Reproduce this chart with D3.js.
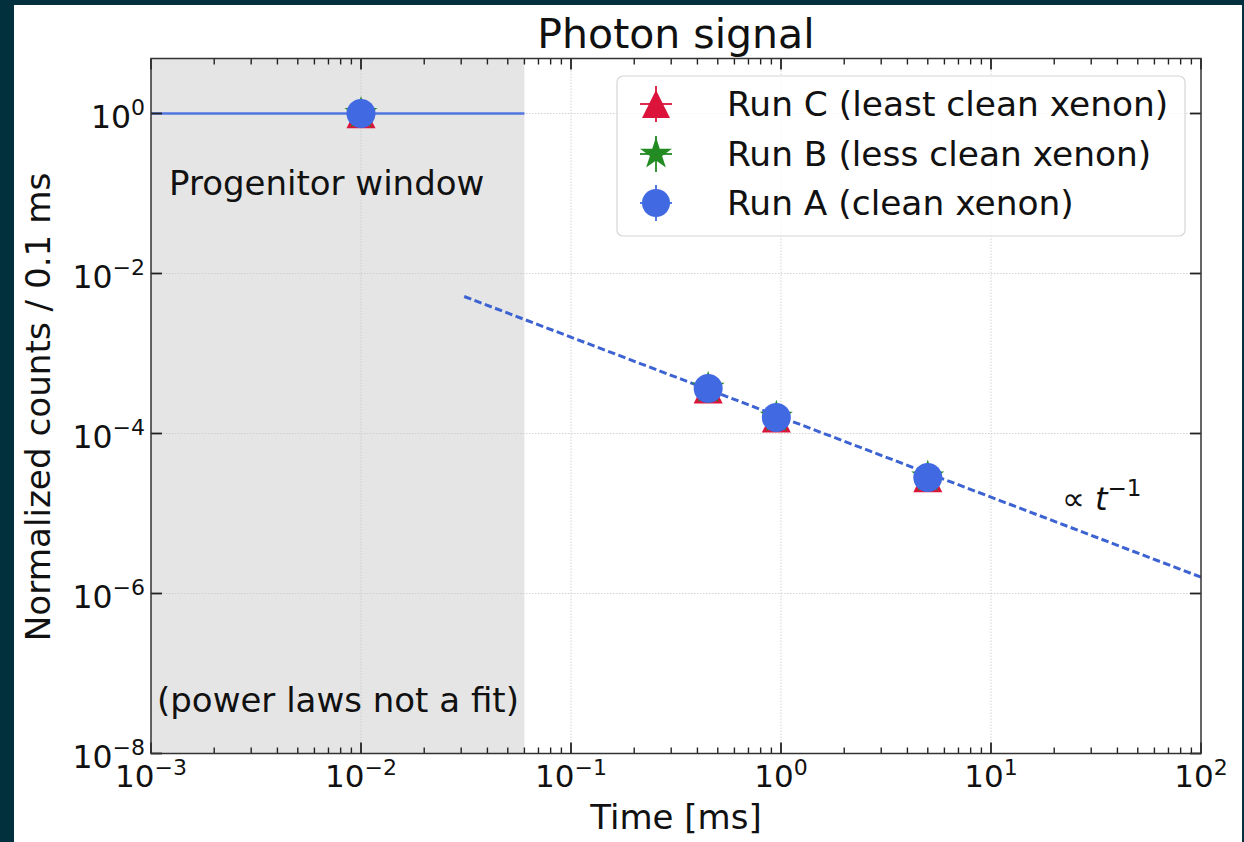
<!DOCTYPE html>
<html>
<head>
<meta charset="utf-8">
<script src="https://cdn.jsdelivr.net/npm/d3@7"></script>
<style>
  html, body { margin: 0; padding: 0; background: #03303d; }
  svg { display: block; font-family: "DejaVu Sans", sans-serif; }
</style>
</head>
<body>
<svg id="chart" width="1244" height="842"></svg>
<script>
// ---------------- data ----------------
const times = [0.01, 0.45, 0.95, 5.0];
const runA = [1.0, 3.65e-4, 1.58e-4, 2.82e-5];
const runB = [1.0, 3.70e-4, 1.60e-4, 2.86e-5];
const runC = [0.99, 3.60e-4, 1.56e-4, 2.80e-5];
const seriesNames = ["Run C (least clean xenon)", "Run B (less clean xenon)", "Run A (clean xenon)"];
const fitCoef = 1.6e-4;          // counts ∝ t^-1
const fitRange = [0.031, 100];
const progenitorWindow = [1e-3, 0.06];
const progenitorLevel = 1.0;
const xTickExps = [-3, -2, -1, 0, 1, 2];
const yTickExps = [0, -2, -4, -6, -8];

// ---------------- layout ----------------
const svg = d3.select("#chart");
const L = 151, R = 1201, T = 58.5, B = 753.5;
const x = d3.scaleLog().domain([1e-3, 1e2]).range([L, R]);
const y = d3.scaleLog().domain([1e-8, Math.pow(10, 0.6875)]).range([B, T]);

const colors = { A: "#4169e1", B: "#228b22", C: "#dc143c" };

// figure background
svg.append("rect").attr("x", 14).attr("y", 5).attr("width", 1228).attr("height", 837).attr("fill", "#ffffff");

// clip
svg.append("clipPath").attr("id", "plotclip").append("rect")
  .attr("x", L).attr("y", T).attr("width", R - L).attr("height", B - T);
const plot = svg.append("g").attr("clip-path", "url(#plotclip)");

// shaded progenitor window
plot.append("rect")
  .attr("x", x(progenitorWindow[0])).attr("y", T)
  .attr("width", x(progenitorWindow[1]) - x(progenitorWindow[0]))
  .attr("height", B - T)
  .attr("fill", "#e5e5e5");

// grid
const gridX = xTickExps.slice(1, -1).map(e => Math.pow(10, e));
const gridY = yTickExps.slice(0, -1).map(e => Math.pow(10, e));
plot.selectAll(".gx").data(gridX).enter().append("line")
  .attr("x1", d => x(d)).attr("x2", d => x(d)).attr("y1", T).attr("y2", B)
  .attr("stroke", "#c8c8c8").attr("stroke-width", 0.8).attr("stroke-dasharray", "1.5,1.5");
plot.selectAll(".gy").data(gridY).enter().append("line")
  .attr("x1", L).attr("x2", R).attr("y1", d => y(d)).attr("y2", d => y(d))
  .attr("stroke", "#c8c8c8").attr("stroke-width", 0.8).attr("stroke-dasharray", "1.5,1.5");

// progenitor level line
plot.append("line")
  .attr("x1", x(progenitorWindow[0])).attr("x2", x(progenitorWindow[1]))
  .attr("y1", y(progenitorLevel)).attr("y2", y(progenitorLevel))
  .attr("stroke", colors.A).attr("stroke-width", 2.6).attr("stroke-opacity", 0.9);

// fit line
const fitPts = fitRange.map(t => [t, fitCoef / t]);
plot.append("path")
  .attr("d", d3.line().x(d => x(d[0])).y(d => y(d[1]))(fitPts))
  .attr("fill", "none").attr("stroke", "#3d63d2").attr("stroke-width", 3)
  .attr("stroke-dasharray", "7.5,3.5");

// marker shapes
function trianglePath(r) {
  return `M0,${-r}L${-r},${r}L${r},${r}Z`;
}
function starPath(r) {
  const inner = r * 0.381966;
  let pts = [];
  for (let i = 0; i < 10; i++) {
    const rad = i % 2 === 0 ? r : inner;
    const a = -Math.PI / 2 + i * Math.PI / 5;
    pts.push([rad * Math.cos(a), rad * Math.sin(a)]);
  }
  return "M" + pts.map(p => p.join(",")).join("L") + "Z";
}

const series = [
  { vals: runC, color: colors.C, shape: "tri" },
  { vals: runB, color: colors.B, shape: "star" },
  { vals: runA, color: colors.A, shape: "circ" }
];
function drawMarker(g, shape, color, r) {
  if (shape === "tri") g.append("path").attr("d", trianglePath(r)).attr("fill", color);
  else if (shape === "star") g.append("path").attr("d", starPath(r * 1.2)).attr("fill", color);
  else g.append("circle").attr("r", r).attr("fill", color);
}
series.forEach(s => {
  s.vals.forEach((v, i) => {
    const g = plot.append("g").attr("transform", `translate(${x(times[i])},${y(v)})`);
    drawMarker(g, s.shape, s.color, 14.5);
  });
});

// ---------------- axes ----------------
const ax = svg.append("g");
// minor x ticks
const minorX = [];
for (let e = -3; e < 2; e++) for (let k = 2; k <= 9; k++) minorX.push(k * Math.pow(10, e));
minorX.forEach(v => {
  ax.append("line").attr("x1", x(v)).attr("x2", x(v)).attr("y1", B).attr("y2", B - 6).attr("stroke", "#222").attr("stroke-width", 1.4);
  ax.append("line").attr("x1", x(v)).attr("x2", x(v)).attr("y1", T).attr("y2", T + 6).attr("stroke", "#222").attr("stroke-width", 1.4);
});
xTickExps.forEach(e => {
  const v = Math.pow(10, e);
  ax.append("line").attr("x1", x(v)).attr("x2", x(v)).attr("y1", B).attr("y2", B - 11).attr("stroke", "#222").attr("stroke-width", 1.8);
  ax.append("line").attr("x1", x(v)).attr("x2", x(v)).attr("y1", T).attr("y2", T + 11).attr("stroke", "#222").attr("stroke-width", 1.8);
  const t = ax.append("text").attr("x", x(v)).attr("y", 787).attr("text-anchor", "middle")
    .attr("font-size", 31).attr("fill", "#111");
  t.append("tspan").text("10");
  t.append("tspan").attr("dy", -12).attr("font-size", 22).text(String(e).replace("-", "\u2212"));
});
yTickExps.forEach(e => {
  const v = Math.pow(10, e);
  ax.append("line").attr("x1", L).attr("x2", L + 11).attr("y1", y(v)).attr("y2", y(v)).attr("stroke", "#222").attr("stroke-width", 1.8);
  ax.append("line").attr("x1", R).attr("x2", R - 11).attr("y1", y(v)).attr("y2", y(v)).attr("stroke", "#222").attr("stroke-width", 1.8);
  const t = ax.append("text").attr("x", 145).attr("y", y(v) + 14.5).attr("text-anchor", "end")
    .attr("font-size", 31.5).attr("fill", "#111");
  t.append("tspan").text("10");
  t.append("tspan").attr("dy", -13).attr("font-size", 22).text(String(e).replace("-", "\u2212"));
});
// spines
ax.append("rect").attr("x", L).attr("y", T).attr("width", R - L).attr("height", B - T)
  .attr("fill", "none").attr("stroke", "#333").attr("stroke-width", 1.5);

// ---------------- legend ----------------
const lg = svg.append("g");
lg.append("rect").attr("x", 617).attr("y", 76).attr("width", 568).attr("height", 160)
  .attr("rx", 6).attr("fill", "#ffffff").attr("fill-opacity", 0.8)
  .attr("stroke", "#d6d6d6").attr("stroke-width", 1.2);
const legRows = [104, 154, 203];
series.forEach((s, i) => {
  const g = lg.append("g").attr("transform", `translate(656,${legRows[i]})`);
  g.append("line").attr("x1", -16).attr("x2", 16).attr("y1", 0).attr("y2", 0).attr("stroke", s.color).attr("stroke-width", 1.8);
  g.append("line").attr("x1", 0).attr("x2", 0).attr("y1", -18).attr("y2", 18).attr("stroke", s.color).attr("stroke-width", 1.8);
  drawMarker(g, s.shape, s.color, 14);
  lg.append("text").attr("x", 727).attr("y", legRows[i] + 12).attr("font-size", 34.4).attr("fill", "#111")
    .text(seriesNames[i]);
});

// ---------------- texts ----------------
svg.append("text").attr("x", 676).attr("y", 48).attr("text-anchor", "middle").attr("font-size", 41).attr("fill", "#111").text("Photon signal");
svg.append("text").attr("x", 676).attr("y", 829).attr("text-anchor", "middle").attr("font-size", 34).attr("fill", "#111").text("Time [ms]");
svg.append("text").attr("transform", "translate(50,407) rotate(-90)").attr("text-anchor", "middle").attr("font-size", 34.2).attr("fill", "#111").text("Normalized counts / 0.1 ms");
svg.append("text").attr("x", 169).attr("y", 195).attr("font-size", 34).attr("fill", "#111").text("Progenitor window");
svg.append("text").attr("x", 157).attr("y", 712).attr("font-size", 34).attr("fill", "#111").text("(power laws not a fit)");
const pl = svg.append("text").attr("x", 1062).attr("y", 510).attr("font-size", 32).attr("fill", "#111");
pl.append("tspan").text("\u221D ");
pl.append("tspan").attr("font-style", "italic").text("t");
pl.append("tspan").attr("dy", -14).attr("font-size", 23).text("\u22121");
</script>
</body>
</html>
